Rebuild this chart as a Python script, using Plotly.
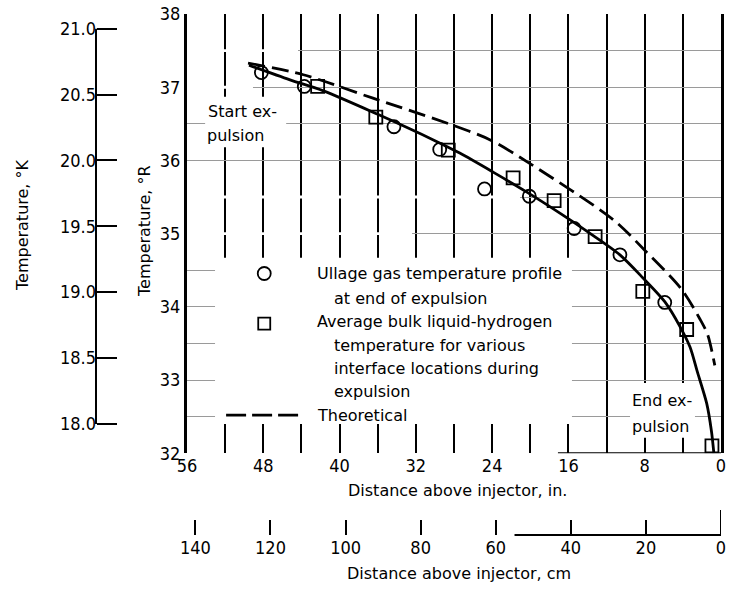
import plotly.graph_objects as go

# Ullage gas temperature profile at end of expulsion
ullage_dist_in = [48.2, 43.7, 34.3, 29.5, 24.8, 20.1, 15.4, 10.6, 5.9]
ullage_temp_R = [37.20, 37.01, 36.46, 36.15, 35.61, 35.51, 35.07, 34.71, 34.06]

# Average bulk liquid-hydrogen temperature for various interface locations
bulk_dist_in = [42.3, 36.2, 28.6, 21.8, 17.5, 13.2, 8.2, 3.6, 0.95]
bulk_temp_R = [37.01, 36.59, 36.14, 35.76, 35.45, 34.96, 34.21, 33.69, 32.10]

# Faired curve through the measured data
fit_dist_in = [49.5, 45.2, 41.7, 36.0, 30.0, 27.4, 23.9, 20.4, 16.9, 13.7, 10.6,
               8.15, 5.9, 4.3, 3.25, 2.5, 1.5, 1.0, 0.75]
fit_temp_R = [37.30, 37.10, 36.95, 36.63, 36.27, 36.10, 35.84, 35.57, 35.28, 35.00, 34.71,
              34.39, 34.07, 33.73, 33.45, 33.12, 32.68, 32.30, 32.00]

# Theoretical curve
theory_dist_in = [49.6, 43.8, 36.5, 28.1, 24.2, 20.2, 11.3, 7.9, 4.2, 2.2, 1.4, 0.65]
theory_temp_R = [37.33, 37.17, 36.85, 36.48, 36.28, 35.97, 35.19, 34.76, 34.25, 33.83, 33.62, 33.20]

# Axis ticks
in_ticks = list(range(56, -1, -4))
in_ticklabels = [str(v) if v % 8 == 0 else "" for v in in_ticks]
R_ticks = [32 + 0.5 * i for i in range(13)]
R_ticklabels = [str(int(v)) if v == int(v) else "" for v in R_ticks]
K_ticks = [18.0, 18.5, 19.0, 19.5, 20.0, 20.5, 21.0]
K_ticklabels = [f"{v:.1f}" for v in K_ticks]
cm_ticks = [0, 20, 40, 60, 80, 100, 120, 140]
cm_ticklabels = [str(v) for v in cm_ticks]

W, H = 729, 589


def px_x(p):
    return p / W


def px_y(p):
    return 1 - p / H


TICK_FONT = dict(family="Liberation Sans Narrow, DejaVu Sans Condensed", size=18, color="black")
TEXT_FONT = dict(family="DejaVu Sans", size=16, color="black")

fig = go.Figure()

fig.add_trace(go.Scatter(x=theory_dist_in, y=theory_temp_R, mode="lines",
                         line=dict(color="black", width=2.8, dash="17px,7px",
                                   shape="spline", smoothing=0.8),
                         showlegend=False, hoverinfo="skip"))
fig.add_trace(go.Scatter(x=fit_dist_in, y=fit_temp_R, mode="lines",
                         line=dict(color="black", width=2.8, shape="spline", smoothing=0.8),
                         showlegend=False, hoverinfo="skip"))
fig.add_trace(go.Scatter(x=ullage_dist_in, y=ullage_temp_R, mode="markers",
                         marker=dict(symbol="circle-open", size=13, color="black",
                                     line=dict(width=1.8, color="black")),
                         showlegend=False))
fig.add_trace(go.Scatter(x=bulk_dist_in, y=bulk_temp_R, mode="markers",
                         marker=dict(symbol="square-open", size=13, color="black",
                                     line=dict(width=1.8, color="black")),
                         showlegend=False))
# companion traces so the secondary scales are drawn
fig.add_trace(go.Scatter(x=[], y=[], xaxis="x", yaxis="y2", showlegend=False))
fig.add_trace(go.Scatter(x=[], y=[], xaxis="x2", yaxis="y", showlegend=False))

shapes = []


def mask(x0, x1, y0, y1):
    shapes.append(dict(type="rect", xref="x", yref="y", x0=x0, x1=x1, y0=y0, y1=y1,
                       fillcolor="white", line=dict(width=0), layer="between"))


# clear areas behind the key and the labels
mask(53.06, 15.63, 32.40, 34.67)
mask(54.1, 45.6, 36.18, 36.87)
mask(9.54, 2.73, 32.21, 32.96)
# gaps in the horizontal rulings
mask(56, 44.36, 37.48, 37.52)
mask(56, 49.08, 36.98, 37.02)
mask(56, 21.08, 35.48, 35.52)
mask(56, 32.4, 34.98, 35.02)

# baseline of the inch scale
shapes.append(dict(type="line", xref="x", yref="y", x0=17.1, x1=0, y0=32, y1=32,
                   line=dict(color="black", width=2), layer="above"))
# centimetre scale line
shapes.append(dict(type="line", xref="x2", yref="paper", x0=55, x1=0,
                   y0=px_y(535), y1=px_y(535), line=dict(color="black", width=2)))
shapes.append(dict(type="line", xref="x2", yref="paper", x0=0, x1=0,
                   y0=px_y(535), y1=px_y(510), line=dict(color="black", width=2)))
# kelvin scale line
shapes.append(dict(type="line", xref="paper", yref="y2", x0=px_x(96), x1=px_x(96),
                   y0=18.0, y1=21.0, line=dict(color="black", width=2)))

# key symbols
shapes.append(dict(type="circle", xref="x", yref="y", xsizemode="pixel", ysizemode="pixel",
                   xanchor=47.9, yanchor=34.455, x0=-6.5, x1=6.5, y0=-6.5, y1=6.5,
                   line=dict(color="black", width=1.8)))
shapes.append(dict(type="rect", xref="x", yref="y", xsizemode="pixel", ysizemode="pixel",
                   xanchor=47.9, yanchor=33.77, x0=-6, x1=6, y0=-6, y1=6,
                   line=dict(color="black", width=1.8)))
shapes.append(dict(type="line", xref="x", yref="y", x0=51.9, x1=44.15, y0=32.52, y1=32.52,
                   line=dict(color="black", width=2.8, dash="20px,6px")))

annotations = []


def label(text, x, y, anchor="left", angle=0, font=TEXT_FONT):
    annotations.append(dict(text=text, xref="paper", yref="paper", x=px_x(x), y=px_y(y),
                            xanchor=anchor, yanchor="middle", showarrow=False,
                            textangle=angle, font=font))


key_lines = [
    ("Ullage gas temperature profile", 318, 274),
    ("at end of expulsion", 335, 298),
    ("Average bulk liquid-hydrogen", 318, 321.7),
    ("temperature for various", 335, 345),
    ("interface locations during", 335, 368.3),
    ("expulsion", 335, 391.7),
    ("Theoretical", 318, 415),
]
for text, x, y in key_lines:
    label(text, x - 3, y)

label("Start ex-", 206, 111)
label("pulsion", 205, 135)
label("End ex-", 630, 400)
label("pulsion", 630, 426)

label("Distance above injector, in.", 457, 490, anchor="center")
label("Distance above injector, cm", 459, 573, anchor="center")
label("Temperature, °K", 23, 225, anchor="center", angle=-90)
label("Temperature, °R", 144, 231, anchor="center", angle=-90)

fig.update_layout(
    template="none",
    width=W, height=H,
    margin=dict(l=0, r=0, t=0, b=0, autoexpand=False),
    paper_bgcolor="white", plot_bgcolor="white",
    showlegend=False,
    xaxis=dict(domain=[px_x(187), px_x(721)], range=[56, 0], automargin=False,
               tickmode="array", tickvals=in_ticks, ticktext=in_ticklabels,
               showgrid=True, gridcolor="black", gridwidth=2,
               showline=False, zeroline=False, ticks="", tickfont=TICK_FONT),
    yaxis=dict(domain=[px_y(453.2), px_y(14)], range=[32, 38], automargin=False,
               tickmode="array", tickvals=R_ticks, ticktext=R_ticklabels,
               showgrid=True, gridcolor="#9a9a9a", gridwidth=1.2,
               showline=True, linecolor="black", linewidth=3, mirror=True,
               zeroline=False, ticks="", tickfont=TICK_FONT),
    yaxis2=dict(overlaying="y", anchor="free", position=px_x(96), side="left",
                range=[32 / 1.8, 38 / 1.8], automargin=False,
                tickmode="array", tickvals=K_ticks, ticktext=K_ticklabels,
                ticks="inside", ticklen=20, tickwidth=2, tickcolor="black",
                showline=False, showgrid=False, zeroline=False, tickfont=TICK_FONT),
    xaxis2=dict(overlaying="x", anchor="free", position=px_y(535), side="bottom",
                range=[56 * 2.54, 0], automargin=False,
                tickmode="array", tickvals=cm_ticks, ticktext=cm_ticklabels,
                ticks="inside", ticklen=15, tickwidth=2, tickcolor="black",
                showline=False, showgrid=False, zeroline=False, tickfont=TICK_FONT),
    shapes=shapes,
    annotations=annotations,
)

fig.write_html("out.html")
